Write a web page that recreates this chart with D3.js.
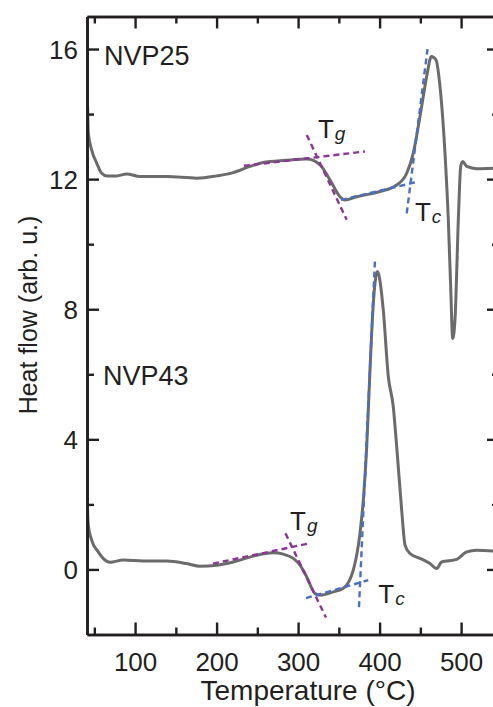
<!DOCTYPE html>
<html>
<head>
<meta charset="utf-8">
<script src="https://cdn.jsdelivr.net/npm/d3@7"></script>
<style>
  html, body { margin: 0; padding: 0; background: #fff; }
  svg { display: block; }
  text { font-family: "Liberation Sans", Arial, Helvetica, sans-serif; fill: #231f20; }
</style>
</head>
<body>
<svg id="chart" width="493" height="707"></svg>
<script>
// ---------- data ----------
const temps25 = [41.8, 42.6, 46.7, 52.9, 59.0, 65.2, 77.4, 89.7, 106.0, 138.8, 175.6, 200.1, 220.5, 241.0, 257.0, 285.0, 310.6, 326.9, 339.1, 351.4, 357.5, 371.9, 400.5, 421.0, 433.3, 441.3, 449.6, 457.8, 463.5, 469.2, 474.1, 480.2, 484.3, 487.2, 489.7, 492.5, 496.6, 499.5, 502.0, 506.9, 519.1, 546.0];
const flow25  = [14.23, 13.42, 12.90, 12.49, 12.18, 12.10, 12.10, 12.16, 12.08, 12.08, 12.03, 12.10, 12.20, 12.39, 12.51, 12.58, 12.62, 12.44, 11.98, 11.46, 11.36, 11.46, 11.62, 11.82, 12.18, 12.80, 13.93, 15.16, 15.77, 15.67, 14.85, 12.81, 10.75, 8.70, 7.10, 7.67, 10.75, 12.39, 12.54, 12.39, 12.32, 12.34];

const temps43 = [41.3, 42.6, 46.7, 54.8, 63.0, 69.2, 85.5, 110.1, 138.8, 163.3, 179.6, 200.1, 220.5, 245.0, 269.6, 281.8, 294.1, 302.3, 310.6, 320.7, 326.9, 343.2, 355.5, 367.7, 375.9, 380.0, 384.2, 388.2, 392.3, 397.2, 399.6, 404.5, 410.7, 416.8, 421.0, 427.1, 431.2, 437.3, 449.6, 461.8, 470.1, 476.0, 494.6, 506.9, 519.1, 546.0];
const flow43  = [2.10, 1.36, 0.90, 0.54, 0.29, 0.22, 0.29, 0.26, 0.26, 0.18, 0.10, 0.13, 0.23, 0.41, 0.51, 0.47, 0.34, 0.13, -0.23, -0.74, -0.79, -0.69, -0.58, -0.02, 1.11, 2.13, 3.77, 6.13, 8.18, 9.16, 9.00, 7.98, 5.93, 5.00, 3.77, 1.82, 0.75, 0.49, 0.34, 0.18, 0.03, 0.23, 0.31, 0.54, 0.59, 0.56];

// tangent construction lines: [T1, v1, T2, v2]
const tgLines25 = [[233.6, 12.41, 382.1, 12.85], [310.6, 13.36, 359.6, 10.75]];
const tcLines25 = [[352.6, 11.36, 443.4, 11.90], [433.3, 10.95, 458.8, 16.0]];
const tgLines43 = [[195.6, 0.18, 313.4, 0.80], [284.5, 1.11, 334.2, -1.48]];
const tcLines43 = [[309.7, -0.88, 386.1, -0.33], [374.7, -1.16, 394.3, 9.49]];

// annotation labels: [main, subscript, T, v]
const tLabels = [["T", "g", 324.4, 13.26], ["T", "c", 443.4, 10.70], ["T", "g", 290.1, 1.21], ["T", "c", 398.4, -1.04]];
const sampleNames = ["NVP25", "NVP43"];
const sampleAnchors = [[61.8, 15.52], [60.6, 5.67]];

const xMajor = [100, 200, 300, 400, 500];
const xMinor = [50, 150, 250, 350, 450];
const yMajor = [0, 4, 8, 12, 16];
const yMinor = [2, 6, 10, 14];
const xTitle = "Temperature (°C)";
const yTitle = "Heat flow (arb. u.)";

// ---------- layout ----------
const L = 87, R = 499, T = 16.5, B = 634.5;
const x = d3.scaleLinear().domain([41, 546.5]).range([L, R]);
const y = d3.scaleLinear().domain([-2, 17]).range([B, T]);

const svg = d3.select("#chart");
const axisColor = "#231f20";

svg.append("defs").append("clipPath").attr("id", "clip")
  .append("rect").attr("x", L).attr("y", T).attr("width", R - L).attr("height", B - T);

const plot = svg.append("g").attr("clip-path", "url(#clip)");

function drawLines(lines, color) {
  plot.selectAll(null).data(lines).enter().append("line")
    .attr("x1", d => x(d[0])).attr("y1", d => y(d[1]))
    .attr("x2", d => x(d[2])).attr("y2", d => y(d[3]))
    .attr("stroke", color).attr("stroke-width", 2.4)
    .attr("stroke-dasharray", "6,4").attr("fill", "none");
}
const purple = "#8b3596";
const blue = "#4770c4";

const line = d3.line().x(d => x(d[0])).y(d => y(d[1])).curve(d3.curveMonotoneX);
const curveColor = "#6b6b6b";
plot.append("path").datum(temps25.map((t, i) => [t, flow25[i]]))
  .attr("d", line).attr("fill", "none").attr("stroke", curveColor)
  .attr("stroke-width", 3).attr("stroke-linejoin", "round");
plot.append("path").datum(temps43.map((t, i) => [t, flow43[i]]))
  .attr("d", line).attr("fill", "none").attr("stroke", curveColor)
  .attr("stroke-width", 3).attr("stroke-linejoin", "round");

drawLines(tgLines25, purple);
drawLines(tcLines25, blue);
drawLines(tgLines43, purple);
drawLines(tcLines43, blue);

const gBottom = svg.append("g").attr("transform", `translate(0,${B})`)
  .call(d3.axisBottom(x).tickValues(xMajor).tickSizeInner(-12).tickSizeOuter(0).tickPadding(24));
const gBottomMinor = svg.append("g").attr("transform", `translate(0,${B})`)
  .call(d3.axisBottom(x).tickValues(xMinor).tickSizeInner(-7).tickSizeOuter(0).tickFormat(""));
const gTop = svg.append("g").attr("transform", `translate(0,${T})`)
  .call(d3.axisTop(x).tickValues(xMajor).tickSizeInner(-12).tickSizeOuter(0).tickFormat(""));
const gTopMinor = svg.append("g").attr("transform", `translate(0,${T})`)
  .call(d3.axisTop(x).tickValues(xMinor).tickSizeInner(-7).tickSizeOuter(0).tickFormat(""));
const gLeft = svg.append("g").attr("transform", `translate(${L},0)`)
  .call(d3.axisLeft(y).tickValues(yMajor).tickSizeInner(-12).tickSizeOuter(0).tickPadding(21));
const gLeftMinor = svg.append("g").attr("transform", `translate(${L},0)`)
  .call(d3.axisLeft(y).tickValues(yMinor).tickSizeInner(-7).tickSizeOuter(0).tickFormat(""));
const gRight = svg.append("g").attr("transform", `translate(${R},0)`)
  .call(d3.axisRight(y).tickValues(yMajor).tickSizeInner(-12).tickSizeOuter(0).tickFormat(""));
const gRightMinor = svg.append("g").attr("transform", `translate(${R},0)`)
  .call(d3.axisRight(y).tickValues(yMinor).tickSizeInner(-7).tickSizeOuter(0).tickFormat(""));

[gBottom, gBottomMinor, gTop, gTopMinor, gLeft, gLeftMinor, gRight, gRightMinor].forEach(g => {
  g.select(".domain").attr("stroke", axisColor).attr("stroke-width", 2.6);
  g.selectAll(".tick line").attr("stroke", axisColor).attr("stroke-width", 2.4);
  g.selectAll(".tick text").attr("font-size", 26)
    .attr("font-family", '"Liberation Sans", Arial, sans-serif').attr("fill", axisColor);
});
gBottom.selectAll(".tick text").attr("dy", "0.71em").attr("y", 18);
gLeft.selectAll(".tick text").attr("dy", "0.36em").attr("x", -9);

svg.append("text").attr("x", 308).attr("y", 700).attr("text-anchor", "middle")
  .attr("font-size", 28).text(xTitle);
svg.append("text").attr("transform", "translate(37,315) rotate(-90)")
  .attr("text-anchor", "middle").attr("font-size", 25).text(yTitle);

svg.selectAll(null).data(sampleNames).enter().append("text")
  .attr("x", (d, i) => x(sampleAnchors[i][0])).attr("y", (d, i) => y(sampleAnchors[i][1]))
  .attr("font-size", 27).text(d => d);

const lab = svg.selectAll(null).data(tLabels).enter().append("text")
  .attr("x", d => x(d[2])).attr("y", d => y(d[3])).attr("font-size", 26);
lab.append("tspan").text(d => d[0]);
lab.append("tspan").attr("font-size", 19).attr("font-style", "italic").attr("dx", 1).attr("dy", 2)
  .text(d => d[1]);
</script>
</body>
</html>
